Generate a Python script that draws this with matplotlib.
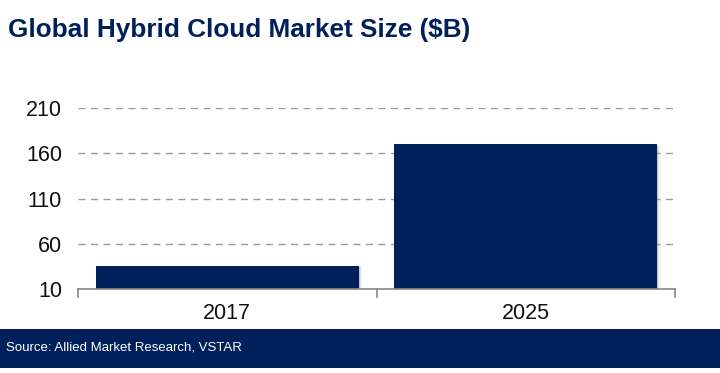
import matplotlib
matplotlib.use("Agg")
import matplotlib.pyplot as plt
from matplotlib.patches import Rectangle
from matplotlib import font_manager

categories = ["2017", "2025"]
values = [36.1, 170.0]
yticks = [10, 60, 110, 160, 210]

names = {f.name for f in font_manager.fontManager.ttflist}
narrow = "Liberation Sans Narrow" if "Liberation Sans Narrow" in names else None
plt.rcParams['font.family'] = ['Liberation Sans', 'DejaVu Sans']

navy = "#00205C"
W, H = 720, 373
fig = plt.figure(figsize=(W/100, H/100), dpi=100)

ax = fig.add_axes([78/W, 1-289.3/H, (675-78)/W, (289.3-108)/H])
x = list(range(len(categories)))
bw = 0.88
# soft shadow
for off, a in [(0.004, 0.35), (0.008, 0.2), (0.012, 0.1)]:
    ax.bar([i + off for i in x], [v - 10 - 1.5 for v in values], bottom=10, width=bw,
           color="#9a9a9a", alpha=a, zorder=2, linewidth=0)
ax.bar(x, [v - 10 for v in values], bottom=10, width=bw, color=navy, zorder=3)
ax.set_xlim(-0.5, len(categories) - 0.5)
ax.set_ylim(10, 210)
ax.set_yticks(yticks)
ax.set_yticklabels([str(t) for t in yticks], fontsize=15.5, color="#111111")
ax.set_xticks(x)
ax.set_xticklabels(categories, fontsize=15.5, color="#111111")
ax.tick_params(axis='y', length=0, pad=11.5)
ax.tick_params(axis='x', length=0, pad=10)
for b in [-0.5, 0.5, 1.5]:
    ax.plot([b, b], [10, 10 - 8/0.9067], color="#888888", lw=1.2, clip_on=False, zorder=4)
for t in yticks[1:]:
    ax.axhline(t, color="#999999", lw=1.0, ls=(0, (5, 4)), zorder=1)
for s in ['top', 'right', 'left']:
    ax.spines[s].set_visible(False)
ax.spines['bottom'].set_color("#888888")
ax.spines['bottom'].set_linewidth(1.2)
ax.spines['bottom'].set_zorder(5)

fig.text(8/W, 1-30/H, "Global Hybrid Cloud Market Size ($B)", fontsize=18.8,
         fontweight='bold', color=navy, va='center', ha='left')

fig.patches.append(Rectangle((0, 1-368/H), 1, (368-329)/H, transform=fig.transFigure,
                             facecolor=navy, edgecolor='none', zorder=0))
if narrow:
    fig.text(6/W, 1-348/H, "Source: Allied Market Research, VSTAR", fontsize=12,
             color="white", va='center', ha='left', family=[narrow, 'DejaVu Sans'])
else:
    fig.text(6/W, 1-348/H, "Source: Allied Market Research, VSTAR", fontsize=9.5,
             color="white", va='center', ha='left')

fig.savefig("out.png", dpi=100)
